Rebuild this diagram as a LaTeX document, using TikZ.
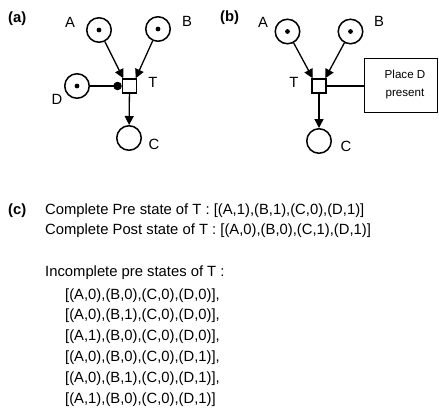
\documentclass[tikz,border=0pt]{standalone}
\usepackage{fontspec}
\setmainfont{Liberation Sans}
\usetikzlibrary{arrows.meta}
\begin{document}
\begin{tikzpicture}[x=1pt,y=-1pt,
  place/.style={circle,draw,line width=1.5pt,minimum size=24.5pt,inner sep=0pt},
  trans/.style={rectangle,draw,line width=1.5pt,minimum size=14pt,inner sep=0pt},
  lbl/.style={font=\fontsize{14.8}{17}\selectfont,inner sep=0pt},
  panel/.style={font=\fontsize{14.8}{17}\selectfont\bfseries,inner sep=0pt,anchor=base west},
  txt/.style={font=\fontsize{14.8}{17}\selectfont,inner sep=0pt,anchor=base west},
  arr/.style={line width=1.3pt,-{Triangle[length=9pt,width=9pt]}},
  readarc/.style={line width=1.3pt,-{Circle[length=8.4pt]}},
  plain/.style={line width=1.3pt},
  token/.style={fill=black}]
\useasboundingbox (0,0) rectangle (439,408);
% ---------- (a)
\node[panel] (pa) at (8,22) {(a)};
\node[place] (aA) at (99,30) {};
\node[place] (aB) at (158,29) {};
\node[place] (aD) at (77,86) {};
\node[trans] (aT) at (129.5,86) {};
\node[place] (aC) at (129,138) {};
\fill[token] (aA) circle (2.4pt);
\fill[token] (aB) circle (2.4pt);
\fill[token] (aD) circle (2.4pt);
\node[lbl] (aAl) at (70,22) {A};
\node[lbl] (aBl) at (187,21) {B};
\node[lbl] (aTl) at (153,82) {T};
\node[lbl] (aDl) at (57,99) {D};
\node[lbl] (aCl) at (154,144) {C};
\draw[arr] (aA) -- ([xshift=1.5pt]aT.north west);
\draw[arr] (aB) -- ([xshift=-1.5pt]aT.north east);
\draw[arr] (aT) -- (aC);
\draw[readarc] (aD) -- (aT.west);
% ---------- (b)
\node[panel] (pb) at (220,21) {(b)};
\node[place] (bA) at (287.5,31.5) {};
\node[place] (bB) at (350.5,31.5) {};
\node[trans] (bT) at (319,86) {};
\node[place] (bC) at (319,141) {};
\fill[token] (bA) circle (2.4pt);
\fill[token] (bB) circle (2.4pt);
\node[lbl] (bAl) at (263,22) {A};
\node[lbl] (bBl) at (379,21) {B};
\node[lbl] (bTl) at (294,82) {T};
\node[lbl] (bCl) at (346,146) {C};
\draw[arr] (bA) -- ([xshift=1.5pt]bT.north west);
\draw[arr] (bB) -- ([xshift=-1.5pt]bT.north east);
\draw[arr] (bT) -- (bC);
\node[draw,line width=1.3pt,minimum width=72.8pt,minimum height=53.8pt,inner sep=0pt] (bBox) at (401,85.5) {};
\node[font=\fontsize{11.6}{18}\selectfont,align=center,inner sep=0pt] (bBoxT) at (405,84) {Place D\\present};
\draw[plain] (bT.east) -- (bBox.west |- bT.east);
% ---------- (c)
\node[panel] (pc) at (8,214) {(c)};
\node[txt] (pre) at (45,214) {Complete Pre state of T : [(A,1),(B,1),(C,0),(D,1)]};
\node[txt] (post) at (45,234.5) {Complete Post state of T : [(A,0),(B,0),(C,1),(D,1)]};
\node[txt] (inc) at (45,276) {Incomplete pre states of T :};
\node[txt] (l1) at (65,299) {[(A,0),(B,0),(C,0),(D,0)],};
\node[txt] (l2) at (65,319.8) {[(A,0),(B,1),(C,0),(D,0)],};
\node[txt] (l3) at (65,340.6) {[(A,1),(B,0),(C,0),(D,0)],};
\node[txt] (l4) at (65,361.4) {[(A,0),(B,0),(C,0),(D,1)],};
\node[txt] (l5) at (65,382.2) {[(A,0),(B,1),(C,0),(D,1)],};
\node[txt] (l6) at (65,403) {[(A,1),(B,0),(C,0),(D,1)]};
\end{tikzpicture}
\end{document}
